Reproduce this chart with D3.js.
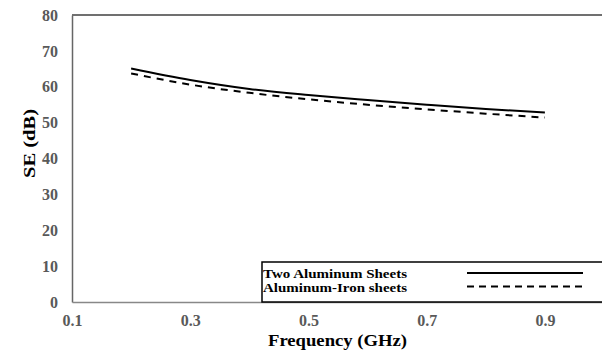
<!DOCTYPE html>
<html>
<head>
<meta charset="utf-8">
<script src="https://cdn.jsdelivr.net/npm/d3@7"></script>
<style>
  body { margin: 0; background: #fff; }
  svg { display: block; }
  .tick text { font-family: "Liberation Serif", "Times New Roman", serif; font-weight: bold; }
</style>
</head>
<body>
<svg id="chart" width="602" height="352"></svg>
<script>
// frequency points (GHz)
const freqs = [0.2, 0.3, 0.4, 0.5, 0.6, 0.7, 0.8, 0.9];
// shielding effectiveness (dB)
const twoAluminum = [65.1, 61.9, 59.4, 57.7, 56.3, 55.0, 53.8, 52.8];
const aluminumIron = [63.7, 60.6, 58.3, 56.5, 55.0, 53.7, 52.5, 51.4];

const xTicks = [0.1, 0.3, 0.5, 0.7, 0.9];
const yTicks = [0, 10, 20, 30, 40, 50, 60, 70, 80];

const seriesNames = ["Two Aluminum Sheets", "Aluminum-Iron sheets"];

const svg = d3.select('#chart');
const plotLeft = 72, plotRight = 604, plotTop = 15, plotBottom = 302;
const serif = '"Liberation Serif", "Times New Roman", serif';

const x = d3.scaleLinear().domain([0.1, 1.0]).range([plotLeft, plotRight]);
const y = d3.scaleLinear().domain([0, 80]).range([plotBottom, plotTop]);

// top border of plot area
svg.append('line')
    .attr('x1', plotLeft).attr('x2', plotRight)
    .attr('y1', plotTop).attr('y2', plotTop)
    .attr('stroke', '#404040')
    .attr('stroke-width', 1.5);

// y axis
const yAxis = svg.append('g')
    .attr('transform', `translate(${plotLeft},0)`)
    .call(d3.axisLeft(y).tickValues(yTicks).tickSize(0).tickPadding(14));
yAxis.select('.domain').attr('stroke', '#666').attr('stroke-width', 1.5);
yAxis.selectAll('text').attr('fill', '#595959').style('font-size', '16px');

// x axis
const xAxis = svg.append('g')
    .attr('transform', `translate(0,${plotBottom})`)
    .call(d3.axisBottom(x).tickValues(xTicks).tickSize(0).tickPadding(13)
        .tickFormat(d3.format('.1f')));
xAxis.select('.domain').attr('stroke', '#888').attr('stroke-width', 1.5);
xAxis.selectAll('text').attr('fill', '#595959').style('font-size', '16px');

// axis titles
svg.append('text')
    .attr('x', 268).attr('y', 346)
    .attr('textLength', 139).attr('lengthAdjust', 'spacingAndGlyphs')
    .style('font-family', serif).style('font-weight', 'bold').style('font-size', '17px')
    .text('Frequency (GHz)');

svg.append('text')
    .attr('transform', 'translate(35,178) rotate(-90)')
    .attr('textLength', 69).attr('lengthAdjust', 'spacingAndGlyphs')
    .style('font-family', serif).style('font-weight', 'bold').style('font-size', '16px')
    .text('SE (dB)');

// curves
const line = d3.line()
    .x((d, i) => x(freqs[i]))
    .y(d => y(d))
    .curve(d3.curveMonotoneX);

svg.append('path')
    .datum(twoAluminum)
    .attr('d', line)
    .attr('fill', 'none')
    .attr('stroke', '#000')
    .attr('stroke-width', 2);

svg.append('path')
    .datum(aluminumIron)
    .attr('d', line)
    .attr('fill', 'none')
    .attr('stroke', '#000')
    .attr('stroke-width', 2)
    .attr('stroke-dasharray', '7,6');

// legend
const legend = svg.append('g');
legend.append('rect')
    .attr('x', 262).attr('y', 262)
    .attr('width', 360).attr('height', 40)
    .attr('fill', '#fff')
    .attr('stroke', '#000')
    .attr('stroke-width', 1.5);

const dashes = [null, '7,5'];
seriesNames.forEach((name, i) => {
    legend.append('text')
        .attr('x', 263).attr('y', 278 + i * 13.5)
        .attr('textLength', 144).attr('lengthAdjust', 'spacingAndGlyphs')
        .style('font-family', serif).style('font-weight', 'bold').style('font-size', '13.5px')
        .text(name);
    legend.append('line')
        .attr('x1', 467).attr('x2', 583)
        .attr('y1', 273 + i * 13.5).attr('y2', 273 + i * 13.5)
        .attr('stroke', '#000')
        .attr('stroke-width', 2)
        .attr('stroke-dasharray', dashes[i]);
});
</script>
</body>
</html>
